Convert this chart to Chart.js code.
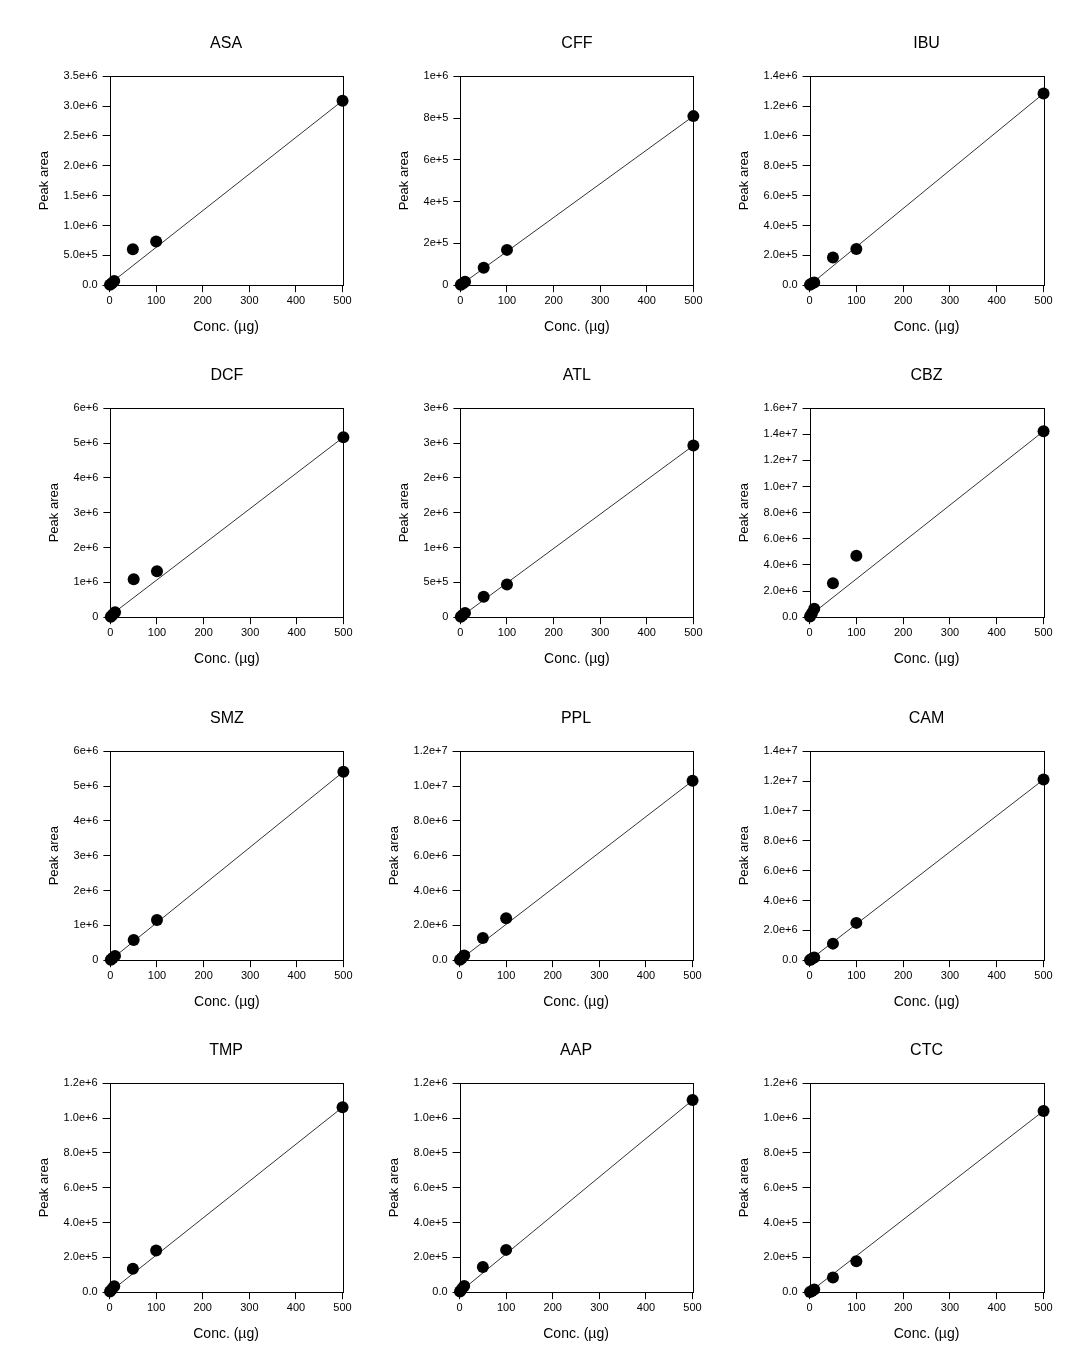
<!DOCTYPE html>
<html>
<head>
<meta charset="utf-8">
<script src="https://cdn.jsdelivr.net/npm/chart.js@4.4.1/dist/chart.umd.min.js"></script>
<style>
  body { margin: 0; background: #fff; }
  #page { position: relative; width: 1090px; height: 1349px; overflow: hidden; background: #fff; }
  #page canvas { position: absolute; }
</style>
</head>
<body>
<div id="page"></div>
<script>
// concentrations (µg) and peak areas
const conc = [1, 5, 10, 50, 100, 500];

const peakASA = [6e3, 3.2e4, 7.2e4, 6.02e5, 7.3e5, 3.09e6];
const peakCFF = [1.7e3, 8.5e3, 1.7e4, 8.4e4, 1.69e5, 8.09e5];
const peakIBU = [2.5e3, 1.2e4, 1.8e4, 1.85e5, 2.43e5, 1.284e6];
const peakDCF = [1.4e4, 7e4, 1.44e5, 1.09e6, 1.32e6, 5.167e6];
const peakATL = [6e3, 3e4, 6.2e4, 2.92e5, 4.69e5, 2.464e6];
const peakCBZ = [6e4, 3e5, 6.4e5, 2.6e6, 4.7e6, 1.424e7];
const peakSMZ = [1.2e4, 6e4, 1.24e5, 5.83e5, 1.156e6, 5.41e6];
const peakPPL = [2.7e4, 1.3e5, 2.7e5, 1.28e6, 2.41e6, 1.03e7];
const peakCAM = [1.8e4, 9e4, 1.8e5, 1.11e6, 2.5e6, 1.21e7];
const peakTMP = [3.4e3, 1.7e4, 3.4e4, 1.34e5, 2.39e5, 1.062e6];
const peakAAP = [3.6e3, 1.8e4, 3.6e4, 1.45e5, 2.43e5, 1.103e6];
const peakCTC = [1.5e3, 7.5e3, 1.5e4, 8.4e4, 1.78e5, 1.041e6];

// fitted line: [value at 0 µg, value at 500 µg]
const fitASA = [2e4, 3.09e6];
const fitCFF = [0, 8.09e5];
const fitIBU = [0, 1.284e6];
const fitDCF = [5e4, 5.167e6];
const fitATL = [0, 2.464e6];
const fitCBZ = [1e5, 1.424e7];
const fitSMZ = [0, 5.41e6];
const fitPPL = [0, 1.03e7];
const fitCAM = [0, 1.21e7];
const fitTMP = [0, 1.062e6];
const fitAAP = [0, 1.103e6];
const fitCTC = [0, 1.041e6];

const fitX = [0, 500];
const xTicks = [0, 100, 200, 300, 400, 500];

// y tick values and the labels printed beside them
const yTicksASA = [0, 5e5, 1e6, 1.5e6, 2e6, 2.5e6, 3e6, 3.5e6];
const yLabelsASA = ['0.0', '5.0e+5', '1.0e+6', '1.5e+6', '2.0e+6', '2.5e+6', '3.0e+6', '3.5e+6'];
const yTicksCFF = [0, 2e5, 4e5, 6e5, 8e5, 1e6];
const yLabelsCFF = ['0', '2e+5', '4e+5', '6e+5', '8e+5', '1e+6'];
const yTicksIBU = [0, 2e5, 4e5, 6e5, 8e5, 1e6, 1.2e6, 1.4e6];
const yLabelsIBU = ['0.0', '2.0e+5', '4.0e+5', '6.0e+5', '8.0e+5', '1.0e+6', '1.2e+6', '1.4e+6'];
const yTicks6e6 = [0, 1e6, 2e6, 3e6, 4e6, 5e6, 6e6];
const yLabels6e6 = ['0', '1e+6', '2e+6', '3e+6', '4e+6', '5e+6', '6e+6'];
const yTicksATL = [0, 5e5, 1e6, 1.5e6, 2e6, 2.5e6, 3e6];
const yLabelsATL = ['0', '5e+5', '1e+6', '2e+6', '2e+6', '3e+6', '3e+6'];
const yTicksCBZ = [0, 2e6, 4e6, 6e6, 8e6, 1e7, 1.2e7, 1.4e7, 1.6e7];
const yLabelsCBZ = ['0.0', '2.0e+6', '4.0e+6', '6.0e+6', '8.0e+6', '1.0e+7', '1.2e+7', '1.4e+7', '1.6e+7'];
const yTicksPPL = [0, 2e6, 4e6, 6e6, 8e6, 1e7, 1.2e7];
const yLabelsPPL = ['0.0', '2.0e+6', '4.0e+6', '6.0e+6', '8.0e+6', '1.0e+7', '1.2e+7'];
const yTicksCAM = [0, 2e6, 4e6, 6e6, 8e6, 1e7, 1.2e7, 1.4e7];
const yLabelsCAM = ['0.0', '2.0e+6', '4.0e+6', '6.0e+6', '8.0e+6', '1.0e+7', '1.2e+7', '1.4e+7'];
const yTicks12e5 = [0, 2e5, 4e5, 6e5, 8e5, 1e6, 1.2e6];
const yLabels12e5 = ['0.0', '2.0e+5', '4.0e+5', '6.0e+5', '8.0e+5', '1.0e+6', '1.2e+6'];

const panels = [
  { name: 'ASA', area: peakASA, fit: fitASA, yTicks: yTicksASA, yLabels: yLabelsASA },
  { name: 'CFF', area: peakCFF, fit: fitCFF, yTicks: yTicksCFF, yLabels: yLabelsCFF },
  { name: 'IBU', area: peakIBU, fit: fitIBU, yTicks: yTicksIBU, yLabels: yLabelsIBU },
  { name: 'DCF', area: peakDCF, fit: fitDCF, yTicks: yTicks6e6, yLabels: yLabels6e6 },
  { name: 'ATL', area: peakATL, fit: fitATL, yTicks: yTicksATL, yLabels: yLabelsATL },
  { name: 'CBZ', area: peakCBZ, fit: fitCBZ, yTicks: yTicksCBZ, yLabels: yLabelsCBZ },
  { name: 'SMZ', area: peakSMZ, fit: fitSMZ, yTicks: yTicks6e6, yLabels: yLabels6e6 },
  { name: 'PPL', area: peakPPL, fit: fitPPL, yTicks: yTicksPPL, yLabels: yLabelsPPL },
  { name: 'CAM', area: peakCAM, fit: fitCAM, yTicks: yTicksCAM, yLabels: yLabelsCAM },
  { name: 'TMP', area: peakTMP, fit: fitTMP, yTicks: yTicks12e5, yLabels: yLabels12e5 },
  { name: 'AAP', area: peakAAP, fit: fitAAP, yTicks: yTicks12e5, yLabels: yLabels12e5 },
  { name: 'CTC', area: peakCTC, fit: fitCTC, yTicks: yTicks12e5, yLabels: yLabels12e5 }
];

// plot-area placement on the page
const colLeft = [110, 460, 810];
const colWidth = [233, 233, 234];
const rowTop = [76, 408, 751, 1083];
const plotH = 209;

Chart.defaults.font.family = '"Liberation Sans", Arial, sans-serif';
Chart.defaults.color = '#000';

// box round the plot area
const framePlugin = {
  id: 'frame',
  beforeDatasetsDraw(chart) {
    const a = chart.chartArea;
    const ctx = chart.ctx;
    ctx.save();
    ctx.strokeStyle = '#000';
    ctx.lineWidth = 1;
    ctx.strokeRect(Math.round(a.left) + 0.5, Math.round(a.top) + 0.5,
      Math.round(a.right - a.left), Math.round(a.bottom - a.top));
    ctx.restore();
  }
};

const page = document.getElementById('page');

panels.forEach(function(p, i) {
  const r = Math.floor(i / 3);
  const c = i % 3;
  const canvas = document.createElement('canvas');
  canvas.width = 360;
  canvas.height = 340;
  canvas.style.width = '360px';
  canvas.style.height = '340px';
  page.appendChild(canvas);

  const chart = new Chart(canvas, {
    type: 'scatter',
    data: {
      datasets: [
        {
          data: conc.map((x, k) => ({ x: x, y: p.area[k] })),
          backgroundColor: '#000',
          borderColor: '#000',
          pointRadius: 6,
          pointBorderWidth: 0,
          showLine: false,
          clip: false
        },
        {
          data: fitX.map((x, k) => ({ x: x, y: p.fit[k] })),
          borderColor: '#333',
          borderWidth: 1,
          pointRadius: 0,
          showLine: true,
          clip: false
        }
      ]
    },
    options: {
      responsive: false,
      animation: false,
      events: [],
      layout: { padding: { top: 0, right: 20, bottom: 0, left: 0 } },
      plugins: {
        legend: { display: false },
        tooltip: { enabled: false },
        title: {
          display: true,
          text: p.name,
          fullSize: false,
          color: '#000',
          font: { size: 16, weight: 'normal' },
          padding: { top: 10, bottom: 23 }
        }
      },
      scales: {
        x: {
          type: 'linear',
          min: 0,
          max: 500,
          afterBuildTicks: s => { s.ticks = xTicks.map(v => ({ value: v })); },
          ticks: { font: { size: 11 }, padding: 2, maxRotation: 0, autoSkip: false,
            callback: v => String(v) },
          grid: { drawOnChartArea: false, drawTicks: true, tickLength: 7, color: '#000' },
          border: { display: false },
          title: { display: true, text: 'Conc. (µg)', font: { size: 14 },
            padding: { top: 9, bottom: 0 } }
        },
        y: {
          type: 'linear',
          min: 0,
          max: p.yTicks[p.yTicks.length - 1],
          afterBuildTicks: s => { s.ticks = p.yTicks.map(v => ({ value: v })); },
          ticks: { font: { size: 11 }, padding: 5, autoSkip: false,
            callback: (v, k) => p.yLabels[k] },
          grid: { drawOnChartArea: false, drawTicks: true, tickLength: 7, color: '#000' },
          border: { display: false },
          title: { display: true, text: 'Peak area', font: { size: 13 },
            padding: { top: 0, bottom: 6 } }
        }
      }
    },
    plugins: [framePlugin]
  });

  // trim padding so the plot area gets its exact size, then place the canvas
  let a = chart.chartArea;
  chart.options.layout.padding.right += (a.right - a.left) - colWidth[c];
  chart.options.layout.padding.bottom += (a.bottom - a.top) - plotH;
  chart.update();
  a = chart.chartArea;
  canvas.style.left = (colLeft[c] - a.left) + 'px';
  canvas.style.top = (rowTop[r] - a.top) + 'px';
});
</script>
</body>
</html>
